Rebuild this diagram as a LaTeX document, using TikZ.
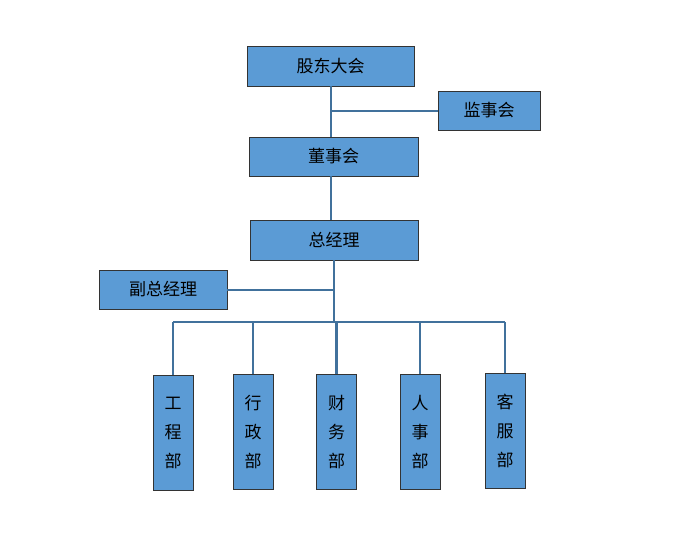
\documentclass[tikz,border=0pt]{standalone}
\usepackage{fontspec}
\newfontfamily\cjk{Noto Sans CJK SC}
\definecolor{boxfill}{HTML}{5B9BD5}
\definecolor{lnc}{HTML}{41719C}
\begin{document}
\begin{tikzpicture}[x=1pt,y=-1pt,
  bx/.style={draw=black!80,line width=0.8pt,fill=boxfill,inner sep=0pt,font=\cjk\fontsize{17}{20}\selectfont},
  vbx/.style={draw=black!80,line width=0.8pt,fill=boxfill,inner sep=0pt,minimum width=40pt,minimum height=115pt,align=center,font=\cjk\fontsize{17}{29}\selectfont},
  ln/.style={draw=lnc,line width=2.2pt}]
\useasboundingbox (0,0) rectangle (685,539);
\node[bx,minimum width=167pt,minimum height=40pt] (gd) at (330.5,66) {股东大会};
\node[bx,minimum width=102pt,minimum height=39pt] (js) at (489,110.5) {监事会};
\node[bx,minimum width=169pt,minimum height=39pt] (ds) at (333.5,156.5) {董事会};
\node[bx,minimum width=168pt,minimum height=40pt] (zj) at (334,240) {总经理};
\node[bx,minimum width=128pt,minimum height=39pt] (fz) at (163,289.5) {副总经理};
\node[vbx] (d1) at (173,432.5) {工\\程\\部};
\node[vbx] (d2) at (253,432) {行\\政\\部};
\node[vbx] (d3) at (336.5,432) {财\\务\\部};
\node[vbx] (d4) at (420,432) {人\\事\\部};
\node[vbx] (d5) at (505,431) {客\\服\\部};
\coordinate (j1) at (331,111);
\coordinate (j2) at (334,290);
\coordinate (bl) at (173,322);
\coordinate (br) at (505,322);
\draw[ln] (gd.south -| j1) -- (ds.north -| j1);
\draw[ln] (j1) -- (js.west |- j1);
\draw[ln] (ds.south -| j1) -- (zj.north -| j1);
\draw[ln] (zj.south -| j2) -- (j2 |- bl);
\draw[ln] (j2) -- (fz.east |- j2);
\draw[ln] (bl) -- (br);
\foreach \d in {d1,d2,d3,d4,d5} \draw[ln] (\d.north) -- (\d.north |- bl);
\end{tikzpicture}
\end{document}
